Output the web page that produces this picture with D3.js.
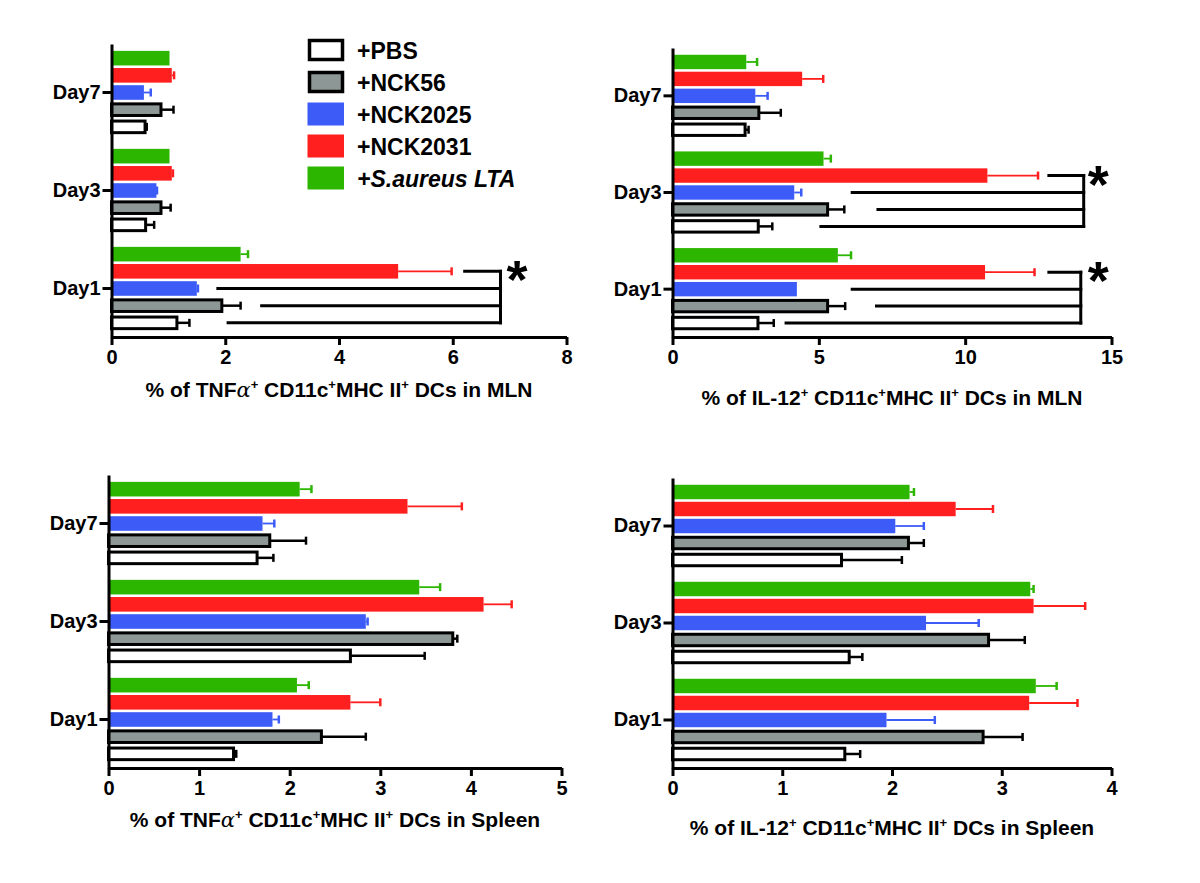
<!DOCTYPE html>
<html>
<head>
<meta charset="utf-8">
<script src="https://cdn.jsdelivr.net/npm/d3@7"></script>
<style>
  body { margin: 0; background: #fff; }
  svg text { font-family: "Liberation Sans", Arial, sans-serif; font-weight: bold; fill: #000; }
</style>
</head>
<body>
<div id="chart"></div>
<script>
// categories
var days = ["Day1", "Day3", "Day7"];
var groups = ["+PBS", "+NCK56", "+NCK2025", "+NCK2031", "+S.aureus LTA"];
var colours = ["#ffffff", "#8d9795", "#3d5cf7", "#ff1f1f", "#2cb600"];

// means [day][group] and SEM [day][group]
var tnfMlnMean = [[1.15, 1.94, 1.50, 5.04, 2.27], [0.60, 0.87, 0.79, 1.06, 1.02], [0.59, 0.87, 0.57, 1.06, 1.02]];
var tnfMlnSem  = [[0.22, 0.33, 0.02, 0.94, 0.13], [0.15, 0.17, 0.01, 0.02, 0.00], [0.03, 0.22, 0.12, 0.04, 0.00]];

var il12MlnMean = [[2.92, 5.30, 4.25, 10.68, 5.65], [2.93, 5.30, 4.16, 10.76, 5.16], [2.48, 2.95, 2.83, 4.43, 2.52]];
var il12MlnSem  = [[0.54, 0.60, 0.00, 1.69, 0.45], [0.48, 0.57, 0.24, 1.73, 0.25], [0.12, 0.75, 0.42, 0.72, 0.37]];

var tnfSplMean = [[1.38, 2.35, 1.81, 2.67, 2.08], [2.67, 3.80, 2.84, 4.14, 3.43], [1.64, 1.78, 1.70, 3.30, 2.11]];
var tnfSplSem  = [[0.03, 0.49, 0.07, 0.33, 0.13], [0.82, 0.05, 0.02, 0.31, 0.23], [0.18, 0.40, 0.13, 0.60, 0.13]];

var il12SplMean = [[1.57, 2.83, 1.95, 3.25, 3.31], [1.61, 2.88, 2.31, 3.29, 3.26], [1.54, 2.15, 2.03, 2.58, 2.16]];
var il12SplSem  = [[0.14, 0.36, 0.44, 0.44, 0.19], [0.12, 0.33, 0.48, 0.47, 0.03], [0.55, 0.14, 0.26, 0.34, 0.04]];

// significance brackets: start of each line (PBS, NCK56, NCK2025, NCK2031), right edge, star
var tnfMlnBrackets = [{ day: "Day1", starts: [2.05, 2.64, 1.87, 6.21], right: 6.84, star: 7.13 }];
var il12MlnBrackets = [
  { day: "Day3", starts: [5.07, 7.02, 6.14, 12.86], right: 14.05, star: 14.55 },
  { day: "Day1", starts: [3.88, 6.97, 6.14, 12.86], right: 13.95, star: 14.55 }
];

var w = 1200, h = 883;

var svg = d3.select("#chart")
  .append("svg")
  .attr("width", w)
  .attr("height", h);

var panels = [
  { mean: tnfMlnMean, sem: tnfMlnSem, max: 8, ticks: [0, 2, 4, 6, 8],
    left: 111.5, right: 566.5, top: 44, bottom: 337, titleY: 60,
    title: ["% of TNF", "α", "+", " CD11c", "+", "MHC II", "+", " DCs in MLN"], brackets: tnfMlnBrackets },
  { mean: il12MlnMean, sem: il12MlnSem, max: 15, ticks: [0, 5, 10, 15],
    left: 672.5, right: 1111.5, top: 48, bottom: 337, titleY: 68,
    title: ["% of IL-12", "", "+", " CD11c", "+", "MHC II", "+", " DCs in MLN"], brackets: il12MlnBrackets },
  { mean: tnfSplMean, sem: tnfSplSem, max: 5, ticks: [0, 1, 2, 3, 4, 5],
    left: 108.5, right: 561.5, top: 475, bottom: 768, titleY: 59,
    title: ["% of TNF", "α", "+", " CD11c", "+", "MHC II", "+", " DCs in Spleen"], brackets: [] },
  { mean: il12SplMean, sem: il12SplSem, max: 4, ticks: [0, 1, 2, 3, 4],
    left: 672.5, right: 1111.5, top: 478, bottom: 768, titleY: 67,
    title: ["% of IL-12", "", "+", " CD11c", "+", "MHC II", "+", " DCs in Spleen"], brackets: [] }
];

function drawPanel(cfg) {
  var g = svg.append("g");

  var x = d3.scaleLinear().domain([0, cfg.max]).range([cfg.left, cfg.right]);
  var y = d3.scaleBand().domain(days).range([cfg.bottom, cfg.top])
    .paddingInner(0.15).paddingOuter(0.07);
  // PBS at the bottom of each group, LTA on top
  var sub = d3.scaleBand().domain(d3.range(groups.length)).range([y.bandwidth(), 0])
    .paddingInner(0.15);

  var cells = [];
  days.forEach(function(day, di) {
    groups.forEach(function(grp, gi) {
      cells.push({ day: day, g: gi, v: cfg.mean[di][gi], e: cfg.sem[di][gi] });
    });
  });

  function barTop(d) { return y(d.day) + sub(d.g); }
  function barMid(d) { return barTop(d) + sub.bandwidth() / 2; }
  function stroked(d) { return d.g < 2; }

  // bars
  g.selectAll("rect.bar")
    .data(cells)
    .join("rect")
    .attr("class", "bar")
    .attr("x", x(0))
    .attr("y", function(d) { return stroked(d) ? barTop(d) + 1.5 : barTop(d); })
    .attr("width", function(d) { return x(d.v) - x(0); })
    .attr("height", function(d) { return stroked(d) ? sub.bandwidth() - 3 : sub.bandwidth(); })
    .attr("fill", function(d) { return colours[d.g]; })
    .attr("stroke", function(d) { return stroked(d) ? "#000" : "none"; })
    .attr("stroke-width", 3);

  // error bars
  var errs = cells.filter(function(d) { return d.e > 0.005; });
  function errCol(d) { return stroked(d) ? "#000" : colours[d.g]; }
  function errW(d) { return stroked(d) ? 2.5 : 1.8; }

  g.selectAll("line.err")
    .data(errs)
    .join("line")
    .attr("class", "err")
    .attr("x1", function(d) { return x(d.v); })
    .attr("x2", function(d) { return x(d.v + d.e); })
    .attr("y1", barMid)
    .attr("y2", barMid)
    .attr("stroke", errCol)
    .attr("stroke-width", errW);

  g.selectAll("line.cap")
    .data(errs)
    .join("line")
    .attr("class", "cap")
    .attr("x1", function(d) { return x(d.v + d.e); })
    .attr("x2", function(d) { return x(d.v + d.e); })
    .attr("y1", function(d) { return barMid(d) - 4; })
    .attr("y2", function(d) { return barMid(d) + 4; })
    .attr("stroke", errCol)
    .attr("stroke-width", 2.5);

  // significance brackets
  cfg.brackets.forEach(function(b) {
    var mids = b.starts.map(function(s, i) { return y(b.day) + sub(i) + sub.bandwidth() / 2; });
    b.starts.forEach(function(s, i) {
      g.append("line")
        .attr("x1", x(s)).attr("x2", x(b.right))
        .attr("y1", mids[i]).attr("y2", mids[i])
        .attr("stroke", "#000").attr("stroke-width", 3)
        .attr("stroke-linecap", "square");
    });
    g.append("line")
      .attr("x1", x(b.right)).attr("x2", x(b.right))
      .attr("y1", mids[0]).attr("y2", mids[3])
      .attr("stroke", "#000").attr("stroke-width", 3)
      .attr("stroke-linecap", "square");
    g.append("text")
      .attr("x", x(b.star))
      .attr("y", mids[3] + 27)
      .attr("text-anchor", "middle")
      .style("font-size", "54px")
      .text("*");
  });

  // axes
  var xAxis = g.append("g")
    .attr("transform", "translate(0," + cfg.bottom + ")")
    .call(d3.axisBottom(x).tickValues(cfg.ticks).tickFormat(d3.format("d"))
      .tickSize(8).tickSizeOuter(0).tickPadding(5));
  var yAxis = g.append("g")
    .attr("transform", "translate(" + x(0) + ",0)")
    .call(d3.axisLeft(y).tickSize(9).tickSizeOuter(0).tickPadding(2));

  [xAxis, yAxis].forEach(function(a) {
    a.selectAll("path, line").attr("stroke", "#000").attr("stroke-width", 3);
    a.selectAll("text")
      .attr("fill", "#000")
      .style("font-size", "20px")
      .style("font-family", "'Liberation Sans', Arial, sans-serif")
      .style("font-weight", "bold");
  });

  // axis title with superscripts
  var t = g.append("text")
    .attr("x", (cfg.left + cfg.right) / 2)
    .attr("y", cfg.bottom + cfg.titleY)
    .attr("text-anchor", "middle")
    .style("font-size", "21px");
  cfg.title.forEach(function(part, i) {
    if (part === "") return;
    var span = t.append("tspan").text(part);
    if (part === "+") {
      span.attr("dy", -8).style("font-size", "13px");
    } else if (i > 0 && cfg.title[i - 1] === "+") {
      span.attr("dy", 8);
    } else if (part === "α") {
      span.style("font-weight", "normal").style("font-family", "'DejaVu Serif', serif").style("font-style", "italic");
    }
  });
}

panels.forEach(drawPanel);

// legend
var legendY = d3.scalePoint().domain(groups).range([50, 178]);
var legend = svg.append("g");
groups.forEach(function(grp, i) {
  var cy = legendY(grp);
  if (i < 2) {
    legend.append("rect")
      .attr("x", 309.5).attr("y", cy - 9.5)
      .attr("width", 33).attr("height", 19)
      .attr("fill", colours[i]).attr("stroke", "#000").attr("stroke-width", 3.5);
  } else {
    legend.append("rect")
      .attr("x", 307.5).attr("y", cy - 11.5)
      .attr("width", 36.5).attr("height", 23)
      .attr("fill", colours[i]);
  }
  legend.append("text")
    .attr("x", 357)
    .attr("y", cy + 8.5)
    .style("font-size", "23px")
    .style("font-style", i === 4 ? "italic" : "normal")
    .text(grp);
});
</script>
</body>
</html>
